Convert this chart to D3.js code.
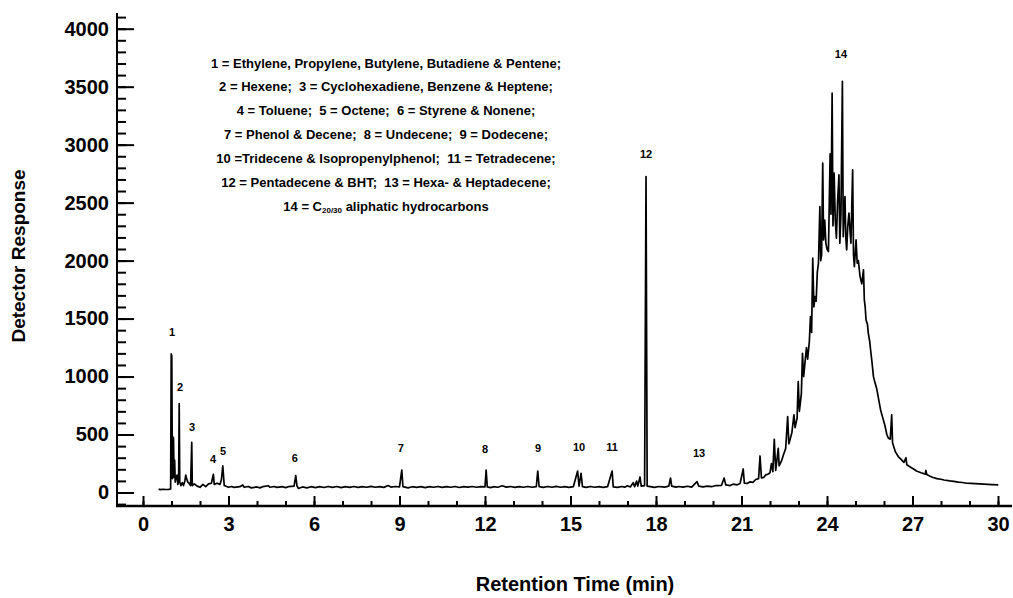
<!DOCTYPE html>
<html>
<head>
<meta charset="utf-8">
<script src="https://cdn.jsdelivr.net/npm/d3@7"></script>
<style>
  body { margin: 0; background: #fff; }
  svg text { font-family: "Liberation Sans", Arial, sans-serif; font-weight: bold; fill: #000; }
</style>
</head>
<body>
<div class="canvas"></div>
<script>
// chromatogram trace, [retention time (min), detector response]
const earlyTrace = [
  [0.55, 30], [0.6, 25], [0.7, 28], [0.8, 26], [0.9, 27], [0.97, 30], [0.99, 1195], [1.01, 1180],
  [1.03, 120], [1.05, 480], [1.07, 470], [1.09, 130], [1.11, 280], [1.13, 90], [1.17, 140],
  [1.2, 150], [1.22, 70], [1.25, 90], [1.27, 766], [1.29, 90], [1.33, 60], [1.38, 85], [1.42, 60],
  [1.47, 100], [1.5, 150], [1.53, 120], [1.57, 90], [1.62, 80], [1.67, 60], [1.71, 433], [1.73, 60],
  [1.8, 75], [1.9, 55], [2.0, 45], [2.1, 70], [2.2, 50], [2.3, 75], [2.4, 80], [2.47, 157], [2.5, 70],
  [2.6, 80], [2.7, 70], [2.75, 110], [2.8, 229], [2.85, 60]
];

const baselineTrace = [
  [3.0, 45], [3.1, 52], [3.2, 44], [3.4, 50], [3.5, 65], [3.55, 45], [3.7, 52], [3.8, 40], [4.0, 48],
  [4.1, 40], [4.2, 50], [4.4, 58], [4.45, 45], [4.6, 52], [4.7, 44], [4.9, 50], [5.0, 42], [5.1, 50],
  [5.3, 55], [5.36, 145], [5.4, 60], [5.45, 35], [5.6, 48], [5.75, 40], [5.9, 50], [6.05, 42],
  [6.2, 50], [6.35, 43], [6.5, 52], [6.65, 44], [6.8, 52], [6.95, 42], [7.1, 50], [7.25, 44],
  [7.4, 52], [7.55, 44], [7.7, 50], [7.85, 45], [8.0, 53], [8.15, 45], [8.3, 50], [8.45, 44],
  [8.6, 60], [8.7, 47], [8.85, 52], [9.0, 48], [9.08, 194], [9.12, 50], [9.3, 40], [9.45, 50],
  [9.6, 44], [9.75, 50], [9.9, 42], [10.05, 50], [10.2, 45], [10.35, 52], [10.5, 44], [10.65, 50],
  [10.8, 45], [10.95, 52], [11.1, 43], [11.25, 50], [11.4, 46], [11.55, 52], [11.7, 45], [11.85, 50],
  [12.0, 48], [12.04, 194], [12.08, 48], [12.2, 42], [12.3, 50], [12.45, 45], [12.6, 58], [12.75, 46],
  [12.9, 52], [13.05, 44], [13.2, 50], [13.35, 45], [13.5, 52], [13.65, 45], [13.8, 50], [13.85, 185],
  [13.9, 50], [14.05, 44], [14.2, 52], [14.35, 45], [14.5, 53], [14.65, 45], [14.8, 50], [14.95, 44],
  [15.1, 50], [15.25, 185], [15.3, 55], [15.37, 165], [15.42, 50], [15.55, 44], [15.7, 52],
  [15.85, 45], [16.0, 50], [16.15, 44], [16.3, 50], [16.46, 185], [16.5, 48], [16.65, 44],
  [16.8, 52], [16.9, 46], [17.0, 58], [17.1, 48], [17.2, 85], [17.25, 50], [17.32, 99], [17.36, 55],
  [17.44, 134], [17.48, 55], [17.6, 60], [17.65, 2725], [17.69, 55], [17.8, 50], [17.95, 44],
  [18.1, 52], [18.3, 46], [18.45, 55], [18.51, 125], [18.55, 55], [18.7, 46], [18.8, 52], [18.95, 46],
  [19.1, 54], [19.25, 47], [19.44, 93], [19.5, 55], [19.65, 48], [19.8, 55], [19.95, 50], [20.1, 60],
  [20.3, 62], [20.39, 125], [20.45, 65], [20.6, 60], [20.7, 72], [20.85, 66], [20.95, 78],
  [21.06, 203], [21.1, 80]
];

const humpTrace = [
  [21.2, 78], [21.3, 92], [21.4, 88], [21.5, 112], [21.6, 120], [21.65, 315], [21.7, 125],
  [21.78, 130], [21.85, 152], [21.95, 160], [22.0, 172], [22.05, 250], [22.1, 180], [22.15, 459],
  [22.2, 190], [22.29, 381], [22.32, 230], [22.4, 270], [22.47, 324], [22.55, 380], [22.62, 654],
  [22.66, 420], [22.7, 453], [22.77, 520], [22.84, 669], [22.88, 560], [22.95, 640], [22.99, 956],
  [23.03, 700], [23.1, 850], [23.14, 1201], [23.18, 1000], [23.22, 1100], [23.28, 1249],
  [23.32, 1150], [23.38, 1300], [23.42, 1517], [23.46, 1380], [23.5, 2021], [23.54, 1600],
  [23.58, 1690], [23.62, 1650], [23.66, 1900], [23.7, 1977], [23.75, 2466], [23.78, 2000],
  [23.81, 2049], [23.85, 2840], [23.88, 2178], [23.92, 2350], [23.96, 2150], [24.0, 2100],
  [24.05, 2078], [24.11, 2921], [24.14, 2400], [24.18, 3444], [24.21, 2300], [24.25, 2754],
  [24.29, 2350], [24.33, 2193], [24.37, 2500], [24.42, 2739], [24.45, 2150], [24.49, 2400],
  [24.54, 3545], [24.57, 2207], [24.6, 2400], [24.63, 2552], [24.66, 2200], [24.69, 2092],
  [24.73, 2300], [24.77, 2409], [24.81, 2250], [24.84, 2150], [24.9, 2782], [24.93, 2050],
  [24.96, 1948], [25.0, 2100], [25.02, 2178], [25.06, 1977], [25.1, 2000], [25.16, 1862],
  [25.22, 1800], [25.28, 1920], [25.31, 1661], [25.34, 1600], [25.37, 1488], [25.42, 1450],
  [25.45, 1373], [25.5, 1300], [25.53, 1229], [25.58, 1120], [25.63, 999], [25.68, 950],
  [25.74, 900], [25.8, 820], [25.88, 712], [25.95, 650], [26.03, 580], [26.1, 500], [26.15, 470],
  [26.22, 460], [26.27, 669], [26.3, 430], [26.4, 350], [26.5, 310], [26.6, 285], [26.7, 260],
  [26.77, 300], [26.8, 240], [26.95, 215], [27.05, 200], [27.14, 185], [27.3, 170], [27.45, 158],
  [27.47, 190], [27.5, 155], [27.6, 142], [27.7, 132], [27.85, 120], [28.0, 114], [28.1, 108],
  [28.31, 100], [28.45, 96], [28.6, 90], [28.75, 86], [28.9, 80], [29.05, 78], [29.2, 76],
  [29.35, 74], [29.49, 72], [29.65, 70], [29.8, 68], [30.01, 65]
];

// peak numbers: [label, retention time, response at label centre]
const peakLabels = [
  ['1', 1.02, 1385], ['2', 1.30, 910], ['3', 1.72, 565], ['4', 2.46, 289], ['5', 2.81, 358],
  ['6', 5.33, 298], ['7', 9.05, 384], ['8', 12.0, 375], ['9', 13.86, 384], ['10', 15.30, 393],
  ['11', 16.46, 393], ['12', 17.65, 2920], ['13', 19.51, 341], ['14', 24.49, 3783]
];

const legendLines = [
  '1 = Ethylene, Propylene, Butylene, Butadiene & Pentene;',
  '2 = Hexene;  3 = Cyclohexadiene, Benzene & Heptene;',
  '4 = Toluene;  5 = Octene;  6 = Styrene & Nonene;',
  '7 = Phenol & Decene;  8 = Undecene;  9 = Dodecene;',
  '10 =Tridecene & Isopropenylphenol;  11 = Tetradecene;',
  '12 = Pentadecene & BHT;  13 = Hexa- & Heptadecene;'
];

const xTicks = [0, 3, 6, 9, 12, 15, 18, 21, 24, 27, 30];
const yTicks = [0, 500, 1000, 1500, 2000, 2500, 3000, 3500, 4000];

const svg = d3.select('.canvas')
  .append('svg')
  .attr('width', 1013)
  .attr('height', 598);

const x = d3.scaleLinear().domain([0, 30]).range([143, 998]);
const y = d3.scaleLinear().domain([0, 4000]).range([492.5, 28.7]);

const axisLeftX = 117, axisBottomY = 506;

// minor ticks
svg.append('g')
  .attr('transform', `translate(${axisLeftX},0)`)
  .call(d3.axisLeft(y).tickValues(d3.range(-100, 4101, 100)).tickSize(-9).tickFormat(''))
  .call(g => g.select('.domain').remove())
  .call(g => g.selectAll('line').attr('stroke-width', 2));

svg.append('g')
  .attr('transform', `translate(0,${axisBottomY})`)
  .call(d3.axisBottom(x).tickValues(d3.range(0, 31, 1)).tickSize(-5).tickFormat(''))
  .call(g => g.select('.domain').remove())
  .call(g => g.selectAll('line').attr('stroke-width', 2));

// major ticks with labels
svg.append('g')
  .attr('transform', `translate(${axisLeftX},0)`)
  .call(d3.axisLeft(y).tickValues(yTicks).tickSize(-17).tickPadding(8).tickFormat(d3.format('d')))
  .call(g => g.select('.domain').remove())
  .call(g => g.selectAll('line').attr('stroke-width', 2))
  .call(g => g.selectAll('text').attr('font-size', 20));

svg.append('g')
  .attr('transform', `translate(0,${axisBottomY})`)
  .call(d3.axisBottom(x).tickValues(xTicks).tickSize(-10).tickPadding(11).tickFormat(d3.format('d')))
  .call(g => g.select('.domain').remove())
  .call(g => g.selectAll('line').attr('stroke-width', 2))
  .call(g => g.selectAll('text').attr('font-size', 20));

// axis lines
svg.append('line')
  .attr('x1', axisLeftX).attr('x2', axisLeftX)
  .attr('y1', 13).attr('y2', axisBottomY + 1)
  .attr('stroke', '#000').attr('stroke-width', 2);

svg.append('line')
  .attr('x1', axisLeftX - 1).attr('x2', 1012)
  .attr('y1', axisBottomY).attr('y2', axisBottomY)
  .attr('stroke', '#000').attr('stroke-width', 2.5);

// trace
const trace = earlyTrace.concat(baselineTrace, humpTrace);
const line = d3.line().x(d => x(d[0])).y(d => y(d[1]));

svg.append('path')
  .datum(trace)
  .attr('d', line)
  .attr('fill', 'none')
  .attr('stroke', '#000')
  .attr('stroke-width', 1.7)
  .attr('stroke-linejoin', 'round');

// peak numbers
svg.selectAll('.peak')
  .data(peakLabels)
  .enter()
  .append('text')
  .attr('class', 'peak')
  .attr('x', d => x(d[1]))
  .attr('y', d => y(d[2]))
  .attr('dy', '0.35em')
  .attr('text-anchor', 'middle')
  .attr('font-size', 11)
  .text(d => d[0]);

// legend block
const legend = svg.append('g')
  .attr('text-anchor', 'middle')
  .attr('font-size', 13);
legendLines.forEach((t, i) => {
  legend.append('text')
    .attr('x', 386)
    .attr('y', 67.5 + i * 23.9)
    .attr('xml:space', 'preserve')
    .style('white-space', 'pre')
    .text(t);
});
const last = legend.append('text')
  .attr('x', 386)
  .attr('y', 67.5 + 6 * 23.9);
last.append('tspan').text('14 = C');
last.append('tspan').attr('font-size', 8).attr('dy', 2).text('20/30');
last.append('tspan').attr('dy', -2).text('\u00a0aliphatic hydrocarbons');

// axis titles
svg.append('text')
  .attr('x', 575)
  .attr('y', 591)
  .attr('text-anchor', 'middle')
  .attr('font-size', 20)
  .text('Retention Time (min)');

svg.append('text')
  .attr('transform', 'translate(25,256) rotate(-90)')
  .attr('text-anchor', 'middle')
  .attr('font-size', 19)
  .text('Detector Response');
</script>
</body>
</html>
